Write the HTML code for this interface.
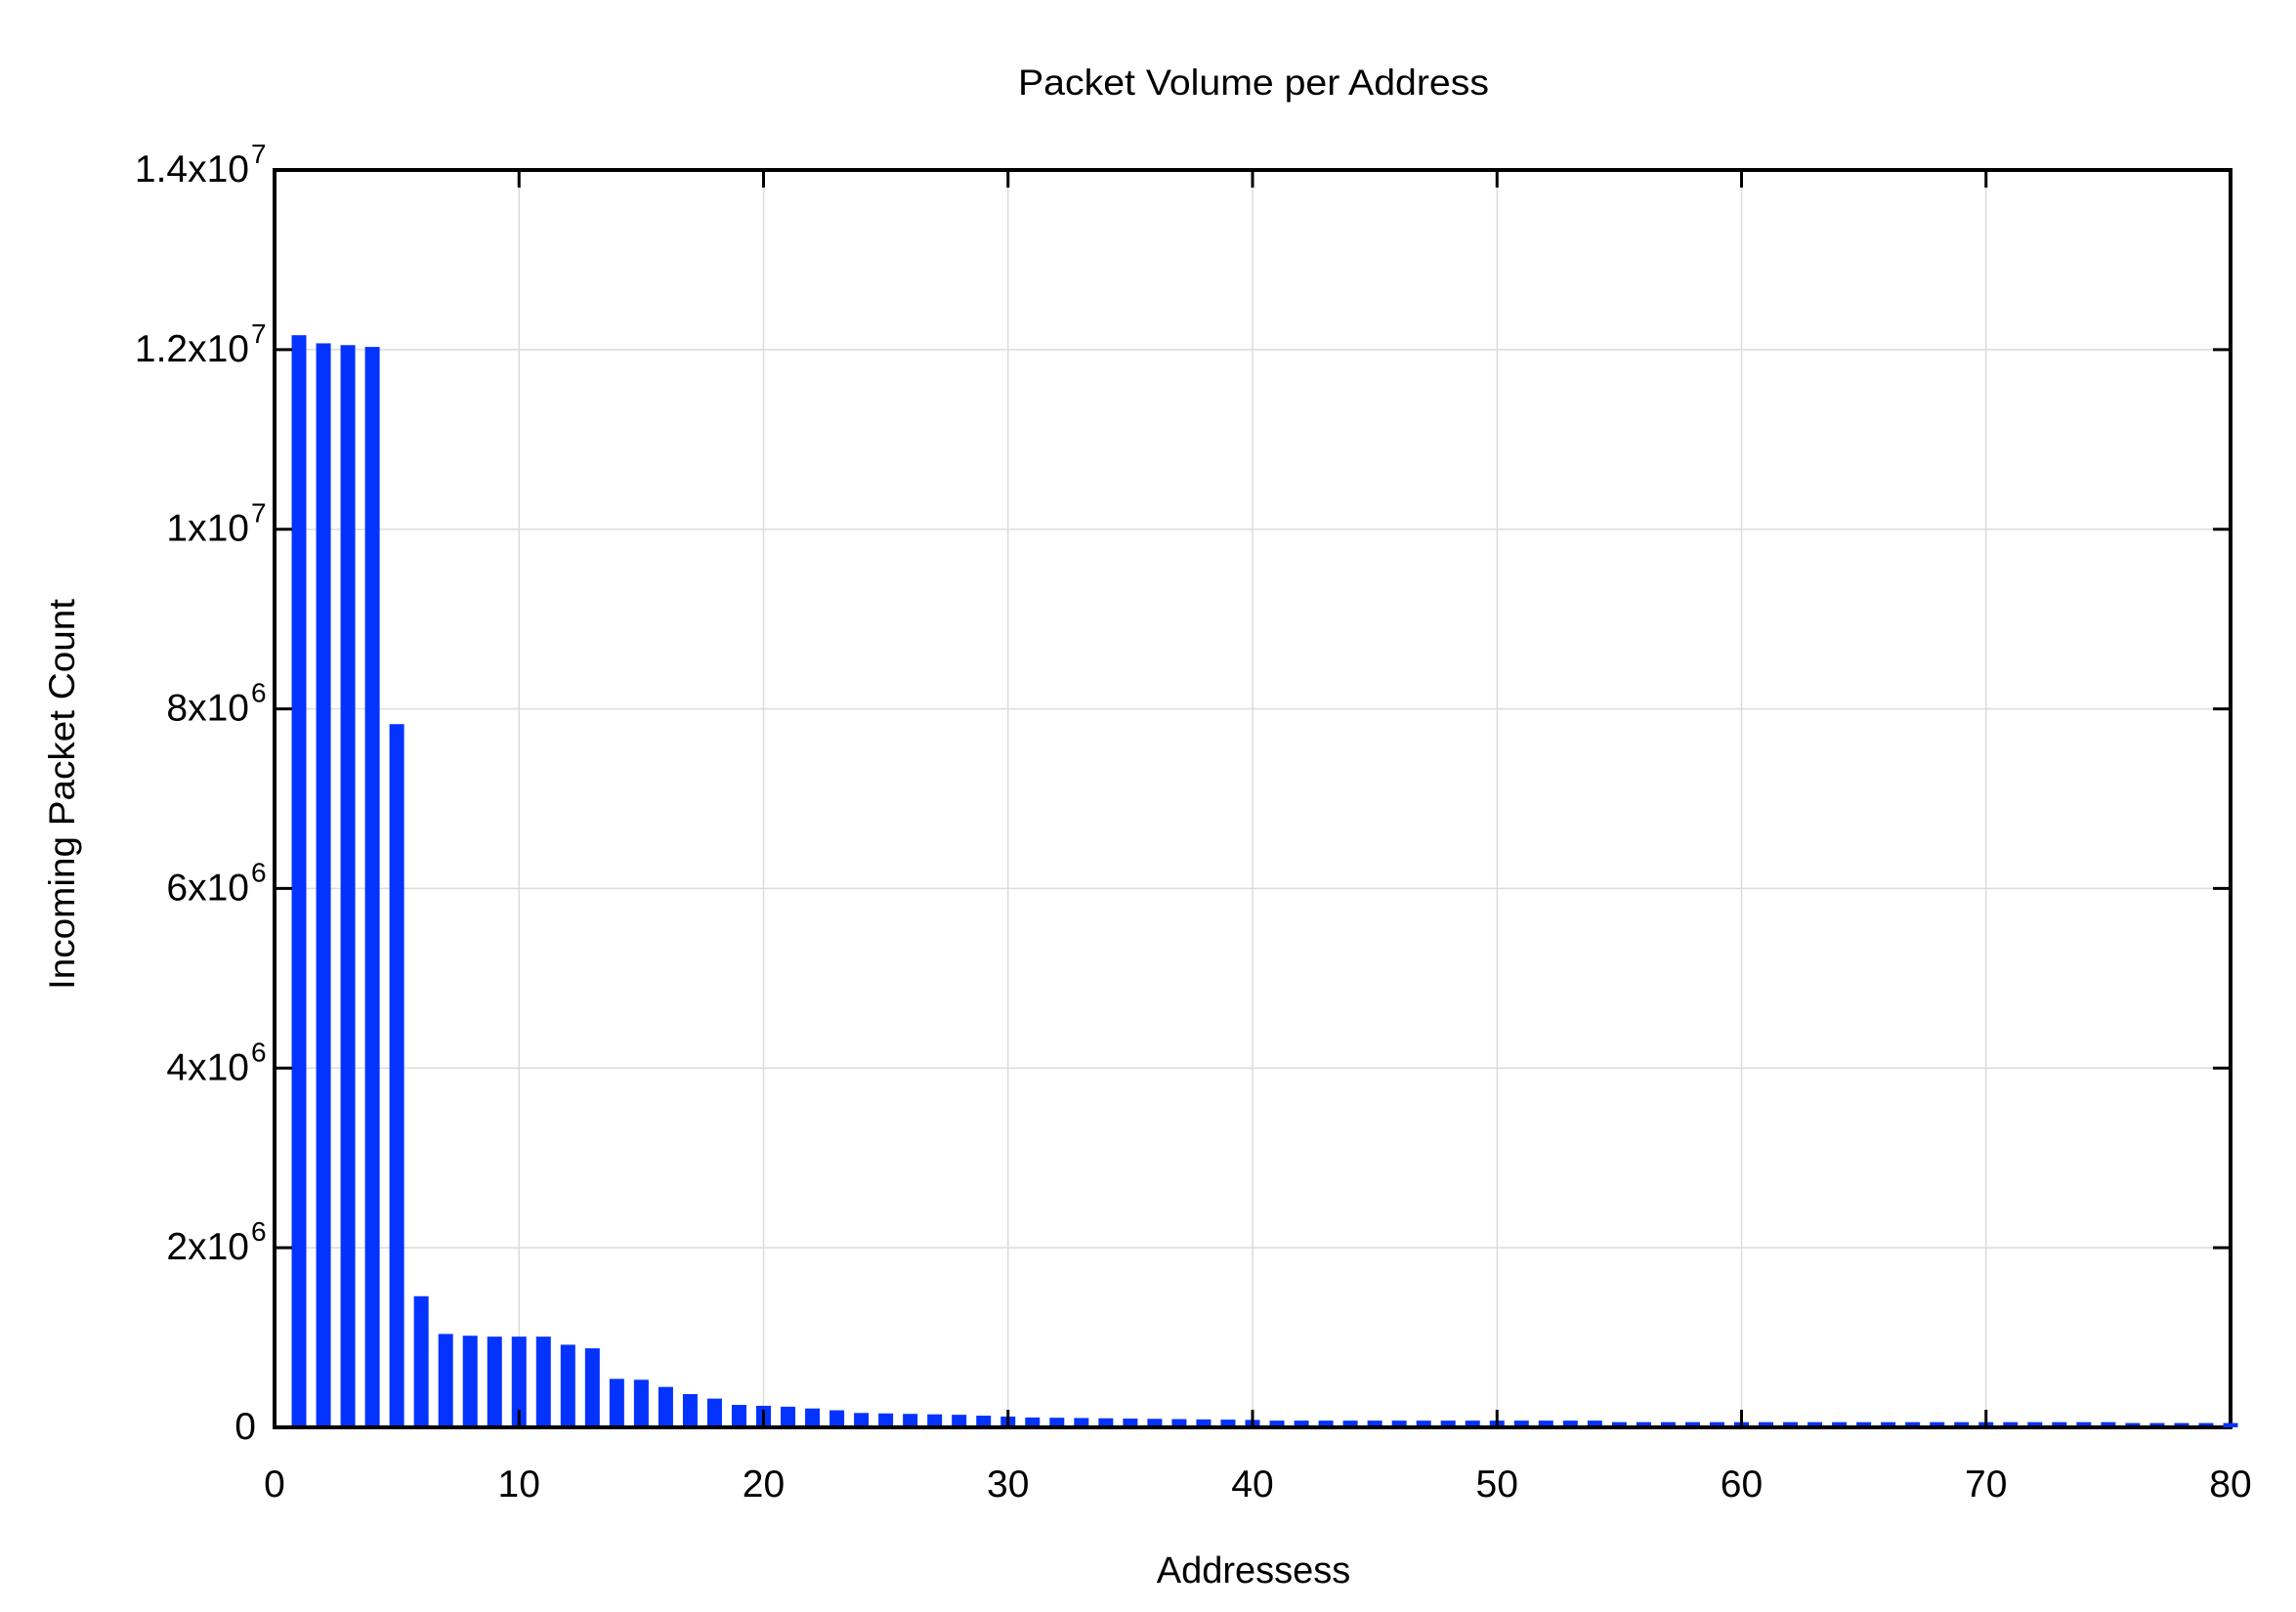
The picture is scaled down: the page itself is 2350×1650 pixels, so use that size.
<!DOCTYPE html>
<html><head><meta charset="utf-8"><style>html,body{margin:0;padding:0;background:#fff}svg{display:block}</style></head>
<body>
<svg id="c" width="2350" height="1650" xmlns="http://www.w3.org/2000/svg" font-family="Liberation Sans, Arial, sans-serif">
<rect width="2350" height="1650" fill="#fff"/>
<g id="grid" stroke="#dcdcdc" stroke-width="1.5"></g>
<g id="bars" fill="#0433ff"></g>
<g id="ticks" stroke="#000" stroke-width="3"></g>
<rect x="281" y="174" width="2002" height="1287" fill="none" stroke="#000" stroke-width="4"/>
<g id="bars2" fill="#0433ff"></g>
<text x="1283" y="97" font-size="37" text-anchor="middle" textLength="482" lengthAdjust="spacingAndGlyphs">Packet Volume per Address</text>
<text x="1283" y="1620" font-size="38" text-anchor="middle">Addressess</text>
<text transform="translate(76,813) rotate(-90)" font-size="37" text-anchor="middle" textLength="400" lengthAdjust="spacingAndGlyphs">Incoming Packet Count</text>
<g id="labels" font-size="39"></g>
</svg>
<script>
const L=281,R=2283,T=174,B=1461,ux=(R-L)/80;
const X=v=>L+v*ux, Y=v=>B-v/14*(B-T);
const ns="http://www.w3.org/2000/svg";
function el(p,t,a,txt){const e=document.createElementNS(ns,t);for(const k in a)e.setAttribute(k,a[k]);if(txt!=null)e.textContent=txt;document.getElementById(p).appendChild(e);return e;}
for(let i=10;i<80;i+=10)el("grid","line",{x1:X(i),x2:X(i),y1:T,y2:B});
for(let j=2;j<14;j+=2)el("grid","line",{x1:L,x2:R,y1:Y(j),y2:Y(j)});
const v=[12.16,12.07,12.05,12.03,7.83,1.46,1.04,1.02,1.01,1.01,1.01,0.92,0.88,0.54,0.53,0.45,0.37,0.32,0.25,0.24,0.23,0.21,0.19,0.16,0.155,0.15,0.145,0.14,0.13,0.12];
for(let i=31;i<=80;i++){let h=i<=40?0.11-(i-31)*0.003:(i<=54?0.075:(i<=75?0.058:0.048));v.push(h);}
v.forEach((h,i)=>{const c=X(i+1);el(i==79?"bars2":"bars","rect",{x:c-7.5,y:Y(h),width:15,height:B-Y(h)});});
for(let i=10;i<80;i+=10){el("ticks","line",{x1:X(i),x2:X(i),y1:B,y2:B-18});el("ticks","line",{x1:X(i),x2:X(i),y1:T,y2:T+18});}
for(let j=2;j<14;j+=2){el("ticks","line",{x1:L,x2:L+18,y1:Y(j),y2:Y(j)});el("ticks","line",{x1:R,x2:R-18,y1:Y(j),y2:Y(j)});}
for(let i=0;i<=80;i+=10)el("labels","text",{x:X(i),y:1532,"text-anchor":"middle"},String(i));
const yl=[[0,"0",""],[2,"2x10","6"],[4,"4x10","6"],[6,"6x10","6"],[8,"8x10","6"],[10,"1x10","7"],[12,"1.2x10","7"],[14,"1.4x10","7"]];
yl.forEach(([val,m,s])=>{const y=Y(val)+12;
 if(!s){el("labels","text",{x:262,y:y,"text-anchor":"end"},m);return;}
 el("labels","text",{x:255,y:y,"text-anchor":"end"},m);
 el("labels","text",{x:257,y:y-19,"font-size":28},s);});
</script>
</body></html>
